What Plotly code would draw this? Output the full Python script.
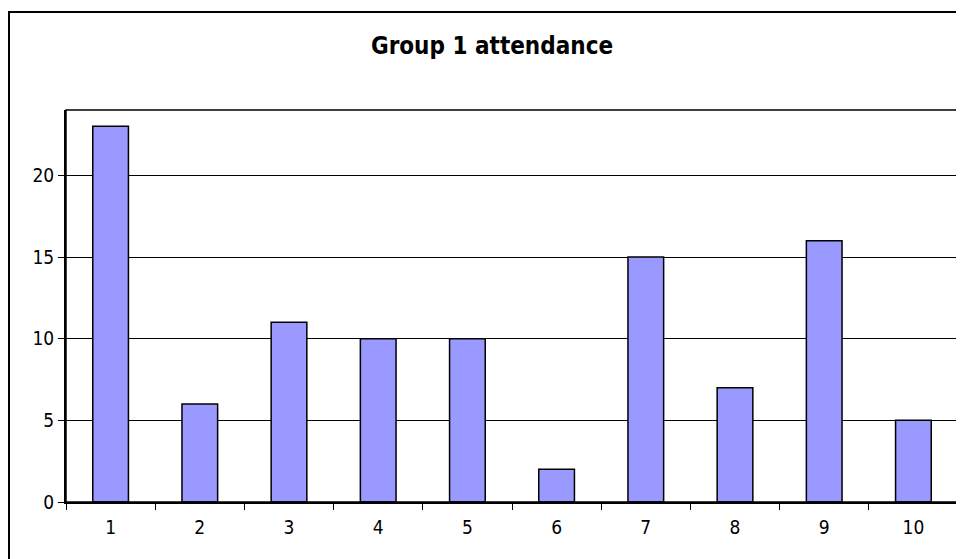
import plotly.graph_objects as go

categories = ["1", "2", "3", "4", "5", "6", "7", "8", "9", "10"]
attendance = [23, 6, 11, 10, 10, 2, 15, 7, 16, 5]
y_ticks = [0, 5, 10, 15, 20]
title_text = "Group 1 attendance"

W, H = 964, 559
OFF = 8  # page body margin offset
# plot area in screen pixels
L, R, T, B = 66, 958, 110, 502
pw, ph = R - L, B - T

def px_x(x):
    return (x - L) / pw

def px_y(y):
    return (B - y) / ph

font_family = "DejaVu Sans Condensed, DejaVu Sans, Verdana, Tahoma, sans-serif"

fig = go.Figure(go.Bar(
    x=categories, y=attendance,
    marker=dict(color="#9999FF", line=dict(color="black", width=1.5)),
    width=0.4,
))

fig.update_layout(
    width=W, height=H,
    margin=dict(l=L - OFF, r=W - (R - OFF), t=T - OFF, b=H - (B - OFF)),
    paper_bgcolor="white", plot_bgcolor="white",
    showlegend=False,
    font=dict(family=font_family, size=19, color="black"),
    title=dict(text="<b>" + title_text + "</b>", x=(492 - OFF) / W, xanchor="center",
               y=1 - (46 - OFF) / H, yanchor="middle",
               font=dict(family=font_family, size=24, color="black")),
    shapes=[
        dict(type="rect", xref="paper", yref="paper",
             x0=px_x(9), x1=px_x(990), y0=px_y(590), y1=px_y(12),
             line=dict(color="black", width=2), layer="below"),
        dict(type="rect", xref="paper", yref="paper",
             x0=0, x1=1, y0=0, y1=1,
             line=dict(color="black", width=1.5), layer="above"),
    ],
)

fig.update_xaxes(
    type="category", tickson="boundaries", ticks="outside", ticklen=6,
    tickcolor="black", tickwidth=1.3, showline=True, linecolor="black", linewidth=2,
    showgrid=False, ticklabelstandoff=7, tickfont=dict(size=19),
)
fig.update_yaxes(
    range=[0, 24], tickvals=y_ticks, ticks="outside", ticklen=6,
    tickcolor="black", tickwidth=1.3, showline=True, linecolor="black", linewidth=2,
    showgrid=True, gridcolor="black", gridwidth=1, zeroline=False,
    ticklabelstandoff=0, tickfont=dict(size=19),
)

fig.write_html("out.html")
